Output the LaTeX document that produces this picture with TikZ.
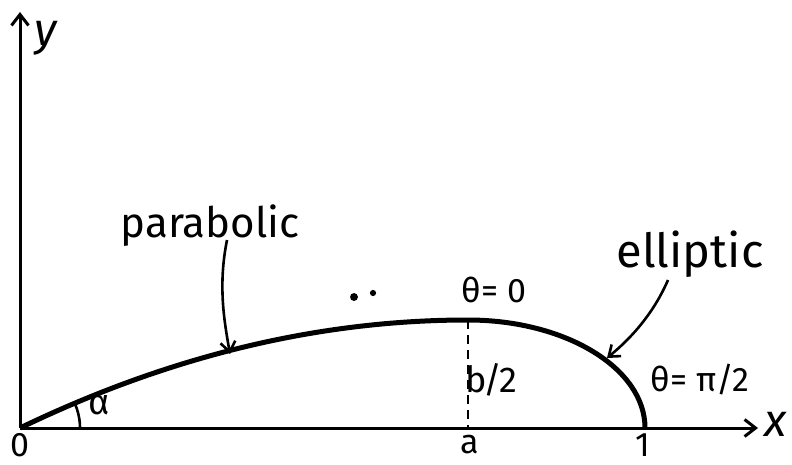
\documentclass[tikz,border=0pt]{standalone}
\usepackage{fontspec}
\setmainfont{Fira Sans}
\usetikzlibrary{arrows.meta}
\begin{document}
\begin{tikzpicture}[x=1pt,y=-1pt,
  axis/.style={line width=3pt,-{Straight Barb[length=11pt,width=17pt,line width=3pt]}},
  curveline/.style={line width=5pt},
  pointer/.style={line width=2.6pt,-{Straight Barb[length=10pt,width=15pt,line width=2.6pt]}},
  lbl/.style={inner sep=0pt,font=\fontsize{42}{46}\selectfont},
  small/.style={inner sep=0pt,font=\fontsize{34}{38}\selectfont},
  tick/.style={inner sep=0pt,font=\fontsize{34}{38}\selectfont},
  axlbl/.style={inner sep=0pt,font=\fontsize{46}{50}\selectfont\itshape}]
\useasboundingbox (0,0) rectangle (792,465);
\coordinate (O) at (20,428);
\coordinate (Xe) at (758,428);
\coordinate (Ye) at (20,12);
\coordinate (P) at (468,320);
\coordinate (A) at (468,428);
\coordinate (E) at (645,428);
\coordinate (pa) at (230,354);
\coordinate (ea) at (607,358);
\draw[axis] (O) -- (Xe);
\draw[axis] (O) -- (Ye);
\draw[curveline] (O) .. controls (169.3,356) and (318.7,320) .. (P)
  .. controls (565.8,320) and (645,368.4) .. (E);
\draw[line width=2.4pt,dash pattern=on 9pt off 6pt] (P) -- (A);
\draw[line width=2.6pt] ([xshift=60pt]O) arc[start angle=0,end angle=25,radius=60pt];
\node[axlbl] (ylab) at (46,38) {y};
\node[axlbl] (xlab) at (776,424) {x};
\node[tick] (zero) at (20,445) {0};
\node[tick] (alab) at (470,445) {a};
\node[tick] (one) at (643,445) {1};
\node[tick,font=\fontsize{36}{40}\selectfont] (alpha) at (99,405) {α};
\node[small,font=\fontsize{36}{40}\selectfont] (b2) at (491,380) {b\kern-3pt/\kern-3pt2};
\node[small] (th0) at (494,290) {θ= 0};
\node[small] (th2) at (700,380) {θ= π/2};
\node[lbl] (para) at (210,226) {parabolic};
\node[lbl,font=\fontsize{47}{50}\selectfont] (ell) at (690,254) {elliptic};
\node[circle,fill,inner sep=2.8pt] (d1) at (354,297) {};
\node[circle,fill,inner sep=2.2pt] (d2) at (373,293) {};
\draw[pointer] (227,240) .. controls (218,285) and (224,320) .. (pa);
\draw[pointer] (668,280) .. controls (655,310) and (635,335) .. (ea);
\end{tikzpicture}
\end{document}
